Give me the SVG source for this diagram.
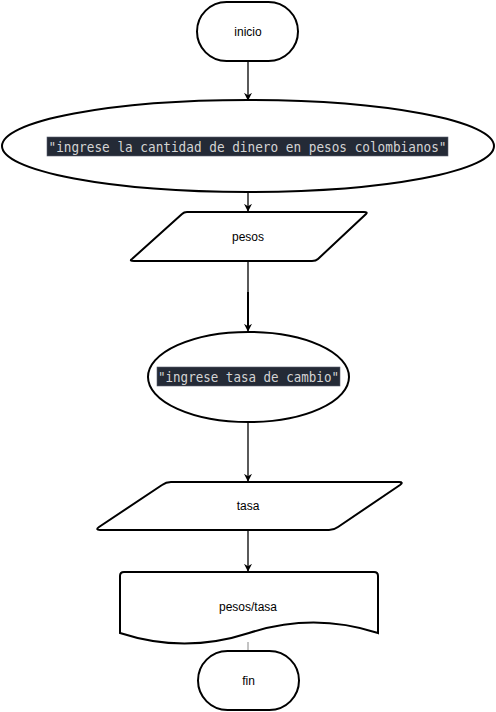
<svg xmlns="http://www.w3.org/2000/svg" width="496" height="712" viewBox="0 0 496 712">
<style>
.shape{fill:#ffffff;stroke:#000000;stroke-width:2}
.lbl{font-family:"Liberation Sans",Arial,sans-serif;font-size:12px;fill:#000000;text-anchor:middle;dominant-baseline:central}
.code{font-family:"DejaVu Sans Mono","Liberation Mono",monospace;font-size:14px;fill:#d4d4d4;text-anchor:middle;dominant-baseline:central}
.hl{fill:#242a36;stroke:#5a6070;stroke-width:0.6}
.conn{fill:none;stroke:#000000;stroke-width:1.3}
</style>
<defs>
<marker id="arr" viewBox="0 0 10 10" refX="9" refY="5" markerWidth="8" markerHeight="8" markerUnits="userSpaceOnUse" orient="auto">
<path d="M0,0 L10,5 L0,10 L3,5 Z" fill="#000000"/>
</marker>
</defs>
<g id="connectors">
<path class="conn" d="M248,61 L248,100" marker-end="url(#arr)"/>
<path class="conn" d="M248,192 L248,211" marker-end="url(#arr)"/>
<path class="conn" d="M248,261 L248,331" marker-end="url(#arr)"/>
<path class="conn" d="M248,292 L248,326" style="stroke-width:2"/>
<path class="conn" d="M248,422 L248,481" marker-end="url(#arr)"/>
<path class="conn" d="M248,530 L248,571" marker-end="url(#arr)"/>
<path d="M248,642 L248,651" fill="none" stroke="#888888" stroke-width="1"/>
</g>
<g id="inicio">
<rect class="shape" x="197" y="2" width="101" height="59" rx="29.5" ry="29.5"/>
<text class="lbl" x="248" y="32">inicio</text>
</g>
<g id="msg1">
<ellipse class="shape" cx="248" cy="146" rx="246" ry="46"/>
<rect class="hl" x="47" y="137" width="401" height="19"/>
<text class="code" x="247.5" y="146.5" textLength="398" lengthAdjust="spacingAndGlyphs">"ingrese la cantidad de dinero en pesos colombianos"</text>
</g>
<g id="pesos">
<path class="shape" d="M187,212 L364,212 Q368,212 366,214 L318,259 Q316,261 312,261 L134,261 Q129,261 132,259 L182,214 Q184,212 187,212 Z"/>
<text class="lbl" x="248" y="237">pesos</text>
</g>
<g id="msg2">
<ellipse class="shape" cx="248.5" cy="377" rx="100.5" ry="45"/>
<rect class="hl" x="157" y="367" width="183" height="19"/>
<text class="code" x="248.5" y="376.5" textLength="181" lengthAdjust="spacingAndGlyphs">"ingrese tasa de cambio"</text>
</g>
<g id="tasa">
<path class="shape" d="M171,482 L399,482 Q404,482 400,485 L338,527 Q334,530 329,530 L100,530 Q95,530 99,527 L162,485 Q166,482 171,482 Z"/>
<text class="lbl" x="248" y="506">tasa</text>
</g>
<g id="resultado">
<path class="shape" d="M124,572 L374,572 Q378,572 378,576 L378,633 Q313.5,612 249,633 Q184.5,654 120,633 L120,576 Q120,572 124,572 Z"/>
<text class="lbl" x="248" y="607">pesos/tasa</text>
</g>
<g id="fin">
<rect class="shape" x="198" y="651" width="101" height="59" rx="29.5" ry="29.5"/>
<text class="lbl" x="248.5" y="681">fin</text>
</g>
</svg>
